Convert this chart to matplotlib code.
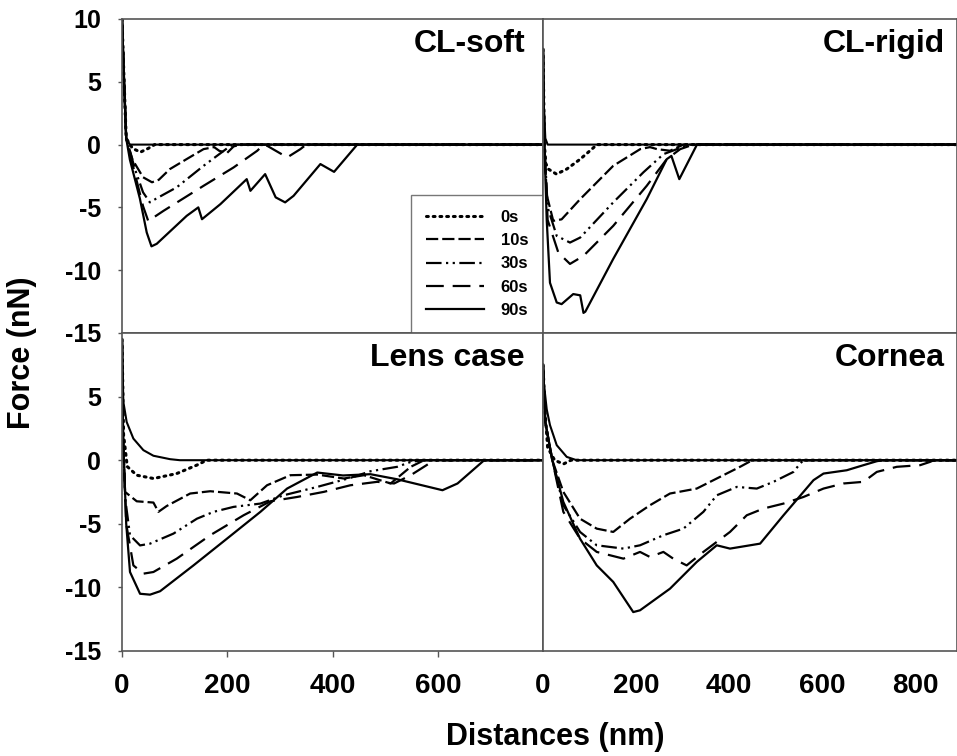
import matplotlib
matplotlib.use("Agg")
import matplotlib.pyplot as plt

plt.rcParams["font.family"] = ["Liberation Sans", "DejaVu Sans"]
plt.rcParams["font.weight"] = "bold"
plt.rcParams["axes.unicode_minus"] = False

# --- Dados -----------------------------------------------
SERIES = ["0s", "10s", "30s", "60s", "90s"]
STYLES = {
    "0s": (0, (0.6, 1.6)),
    "10s": (0, (5.5, 1.8)),
    "30s": (0, (7, 2, 1, 2, 1, 2)),
    "60s": (0, (8, 4)),
    "90s": "solid",
}

# CL-soft (painel superior esquerdo)
soft_x_0s = [0, 4, 8, 20, 35, 50, 62, 800]
soft_y_0s = [10, 5, 0.5, -0.3, -0.6, -0.3, 0, 0]
soft_x_10s = [0, 4, 8, 20, 40, 57, 70, 91, 125, 155, 175, 185, 200, 212, 225, 800]
soft_y_10s = [10, 5, 0.5, -1.2, -2.6, -3.0, -2.8, -1.95, -1.1, -0.36, -0.2, -0.5, -0.65, -0.15, 0, 0]
soft_x_30s = [0, 4, 8, 25, 40, 53, 65, 104, 155, 206, 220, 800]
soft_y_30s = [10, 5, 0.5, -2.0, -3.8, -4.6, -4.3, -3.4, -1.69, -0.1, 0, 0]
soft_x_60s = [0, 4, 8, 25, 40, 50, 60, 79, 155, 212, 257, 269, 276, 314, 339, 350, 800]
soft_y_60s = [10, 5, 0.5, -2.4, -4.9, -6.1, -5.8, -5.27, -3.28, -1.82, -0.49, 0, -0.1, -1.02, -0.36, 0, 0]
soft_x_90s = [0, 4, 8, 15, 34, 47, 56, 66, 123, 145, 152, 187, 237, 244, 272, 292, 310, 326, 377, 403, 447, 800]
soft_y_90s = [10, 5, 0.5, -1.2, -4.3, -7.0, -8.1, -7.9, -5.67, -5.0, -5.94, -4.74, -2.75, -3.68, -2.35,
              -4.2, -4.6, -4.08, -1.55, -2.17, 0, 0]
soft_x_app = [0, 4, 8, 15, 800]
soft_y_app = [10, 5, 0.5, 0, 0]

# CL-rigid (painel superior direito)
rigid_x_0s = [0, 3, 6, 11.5, 29, 51, 80, 105, 116, 890]
rigid_y_0s = [7.6, 0, -1.5, -1.95, -2.35, -1.95, -1.16, -0.36, 0, 0]
rigid_x_10s = [0, 3, 8, 22, 40, 80, 151, 209, 230, 245, 273, 302, 890]
rigid_y_10s = [7.6, 0, -4, -6.07, -5.95, -4.34, -1.69, -0.36, -0.2, -0.36, -0.49, 0, 0]
rigid_x_30s = [0, 3, 10, 29.5, 58, 80, 151, 216, 259, 288, 316, 890]
rigid_y_30s = [7.6, 0, -5, -7.27, -7.8, -7.4, -4.6, -2.2, -0.76, -0.36, 0, 0]
rigid_x_60s = [0, 3, 10, 33, 58, 87, 151, 223, 266, 295, 323, 890]
rigid_y_60s = [7.6, 0, -6, -8.6, -9.5, -8.86, -6.47, -3.28, -1.16, -0.36, 0, 0]
rigid_x_90s = [0, 3, 8, 15, 29.5, 40, 65, 80, 87, 91, 151, 223, 266, 276, 293, 331, 890]
rigid_y_90s = [7.6, 0, -6, -11, -12.57, -12.7, -11.9, -12.0, -13.4, -13.3, -9.1, -4.34, -1.16, -0.9,
               -2.75, 0, 0]
rigid_x_app = [0, 2, 5, 10, 890]
rigid_y_app = [7.6, 3, 0.5, 0, 0]

# Lens case (painel inferior esquerdo)
lens_x_0s = [0, 3, 10, 28, 60, 104, 142, 161, 800]
lens_y_0s = [9.5, 2, -0.5, -1.18, -1.44, -1.05, -0.39, 0, 0]
lens_x_10s = [0, 2, 5.7, 28, 59.7, 69.2, 85, 129.5, 167.6, 218.5, 243.8, 275.6, 320, 370.9, 421.6,
              459.7, 510.5, 548.6, 574, 800]
lens_y_10s = [9.5, 2, -2.49, -3.23, -3.33, -4.06, -3.6, -2.62, -2.44, -2.62, -3.15, -1.97, -1.18,
              -1.13, -1.44, -1.18, -1.83, -0.52, 0, 0]
lens_x_30s = [0, 2, 6, 15.2, 34.3, 53.3, 97.8, 142.3, 174, 212, 263, 307, 371, 434, 472, 523, 549, 570, 800]
lens_y_30s = [9.5, 2, -3, -5.9, -6.7, -6.56, -5.77, -4.6, -4.06, -3.67, -3.41, -2.76, -2.1, -1.39,
              -0.87, -0.52, -0.13, 0, 0]
lens_x_60s = [0, 2, 8, 21.6, 40.6, 59.7, 104, 167.6, 231, 282, 332.8, 383.5, 434, 485, 517, 548.6,
              586.7, 600, 800]
lens_y_60s = [9.5, 2, -5, -8.27, -8.92, -8.79, -7.74, -5.9, -4.33, -3.23, -2.89, -2.49, -1.97, -1.7,
              -1.83, -1.18, -0.18, 0, 0]
lens_x_90s = [0, 2, 8, 15.2, 34.3, 53.3, 72.4, 135.8, 199.4, 263, 313.7, 371, 420, 472, 523, 609,
              637.6, 688.3, 800]
lens_y_90s = [9.5, 2, -5, -8.79, -10.5, -10.57, -10.3, -8.27, -6.17, -4.06, -2.23, -0.97, -1.2, -1.1,
              -1.5, -2.36, -1.83, 0, 0]
lens_x_app = [0, 2.5, 8.9, 21.6, 40.6, 59.7, 91.4, 110, 800]
lens_y_app = [9.5, 4.6, 3.0, 1.7, 0.79, 0.35, 0.08, 0, 0]

# Cornea (painel inferior direito)
cornea_x_0s = [0, 4, 10, 25, 44, 60, 890]
cornea_y_0s = [7.5, 4, 1, 0, -0.3, 0, 0]
cornea_x_10s = [0, 5, 20, 43.7, 79.6, 115.5, 151, 187, 230, 273, 330.5, 373.5, 423.6, 450, 890]
cornea_y_10s = [7.5, 3, 0, -2.49, -4.6, -5.38, -5.64, -4.6, -3.54, -2.62, -2.23, -1.44, -0.52, 0, 0]
cornea_x_30s = [0, 5, 20, 43.7, 79.6, 115.5, 172.9, 208.6, 258.8, 301.8, 344.8, 373.5, 416.6, 459.6,
                495.5, 538.5, 552.9, 560, 890]
cornea_y_30s = [7.5, 3, 0, -3.54, -5.64, -6.69, -6.95, -6.69, -5.9, -5.38, -4.06, -2.76, -2.1, -2.23,
                -1.7, -0.92, -0.26, 0, 0]
cornea_x_60s = [0, 5, 20, 43.7, 79.6, 115.5, 172.9, 208.6, 230, 258.8, 280, 308.8, 344.8, 402, 438,
                474, 517, 560, 603, 646, 689, 717.6, 760.6, 810.8, 832.3, 840, 890]
cornea_y_60s = [7.5, 3, 0, -4.06, -6.17, -7.21, -7.74, -7.21, -7.61, -7.21, -7.74, -8.27, -7.21, -5.64,
                -4.33, -3.8, -3.41, -2.89, -2.23, -1.83, -1.7, -0.92, -0.52, -0.39, -0.13, 0, 0]
cornea_x_90s = [0, 5, 20, 43.7, 79.6, 115.5, 151, 194, 208.6, 273, 330.5, 373.5, 402, 466.7, 517,
                581.5, 603, 653, 689, 717.6, 730, 890]
cornea_y_90s = [7.5, 3, 0, -3.28, -6.17, -8.27, -9.57, -11.94, -11.8, -10.1, -8.0, -6.69, -6.95, -6.56,
                -4.33, -1.57, -1.05, -0.79, -0.39, -0.08, 0, 0]
cornea_x_app = [0, 2, 8, 15, 29.5, 51, 72.4, 890]
cornea_y_app = [7.5, 6, 4, 2.76, 1.18, 0.26, 0, 0]

PANELS = [
    ("CL-soft", 800,
     [(soft_x_0s, soft_y_0s), (soft_x_10s, soft_y_10s), (soft_x_30s, soft_y_30s),
      (soft_x_60s, soft_y_60s), (soft_x_90s, soft_y_90s)], (soft_x_app, soft_y_app)),
    ("CL-rigid", 890,
     [(rigid_x_0s, rigid_y_0s), (rigid_x_10s, rigid_y_10s), (rigid_x_30s, rigid_y_30s),
      (rigid_x_60s, rigid_y_60s), (rigid_x_90s, rigid_y_90s)], (rigid_x_app, rigid_y_app)),
    ("Lens case", 800,
     [(lens_x_0s, lens_y_0s), (lens_x_10s, lens_y_10s), (lens_x_30s, lens_y_30s),
      (lens_x_60s, lens_y_60s), (lens_x_90s, lens_y_90s)], (lens_x_app, lens_y_app)),
    ("Cornea", 890,
     [(cornea_x_0s, cornea_y_0s), (cornea_x_10s, cornea_y_10s), (cornea_x_30s, cornea_y_30s),
      (cornea_x_60s, cornea_y_60s), (cornea_x_90s, cornea_y_90s)], (cornea_x_app, cornea_y_app)),
]

# --- Layout (pixels -> fração da figura) -----------------
W, H = 957, 756
SPINE = "#555555"
x_left, x_mid, x_right = 122, 543, 957
y_top, y_mid, y_bot = 19, 333, 651

fig = plt.figure(figsize=(W / 100, H / 100), dpi=100)
rects = [
    (x_left, y_top, x_mid, y_mid),
    (x_mid, y_top, x_right, y_mid),
    (x_left, y_mid, x_mid, y_bot),
    (x_mid, y_mid, x_right, y_bot),
]

axes = []
for (label, xmax, curves, app), (l, t, r, b) in zip(PANELS, rects):
    ax = fig.add_axes([l / W, 1 - b / H, (r - l) / W, (b - t) / H])
    ax.plot(app[0], app[1], color="black", lw=1.5, solid_capstyle="butt")
    for name, (xs, ys) in zip(SERIES, curves):
        ax.plot(xs, ys, color="black", lw=1.6 if name != "0s" else 2.2,
                linestyle=STYLES[name], dash_capstyle="round" if name == "0s" else "butt",
                label=name)
    ax.set_xlim(0, xmax)
    ax.set_ylim(-15, 10)
    for s in ax.spines.values():
        s.set_color(SPINE)
        s.set_linewidth(1.2)
    ax.text(0.957 if xmax == 800 else 0.971, 0.895, label, transform=ax.transAxes,
            ha="right", va="baseline", fontsize=23, fontweight="bold")
    axes.append(ax)

ax_soft, ax_rigid, ax_lens, ax_cornea = axes

for ax in (ax_soft, ax_lens):
    ax.tick_params(axis="y", direction="out", length=3, width=1, color=SPINE,
                   labelsize=18, pad=12)
for ax in (ax_rigid, ax_cornea):
    ax.tick_params(axis="y", length=0, labelleft=False)
ax_soft.set_yticks([-15, -10, -5, 0, 5, 10])
ax_lens.set_yticks([-15, -10, -5, 0, 5])

for ax in (ax_soft, ax_rigid):
    ax.tick_params(axis="x", length=0, labelbottom=False)
ax_lens.set_xticks([0, 200, 400, 600])
ax_lens.tick_params(axis="x", direction="out", length=4, width=1, color=SPINE,
                    labelsize=20, pad=12)
ax_cornea.set_xticks([0, 200, 400, 600, 800])
ax_cornea.tick_params(axis="x", length=0, labelsize=20, pad=16)

leg = ax_soft.legend(loc="lower right", bbox_to_anchor=(1, 0), borderaxespad=0,
                     fancybox=False, handlelength=3.5, labelspacing=0.5,
                     borderpad=0.9, handletextpad=1.0,
                     prop={"weight": "bold", "size": 12})
leg.get_frame().set_edgecolor(SPINE)
leg.get_frame().set_linewidth(1.0)
leg.set_zorder(5)

fig.text(22 / W, 1 - 353 / H, "Force (nN)", rotation=90, ha="center", va="center",
         fontsize=22, fontweight="bold")
fig.text(555 / W, 1 - 737 / H, "Distances (nm)", ha="center", va="center",
         fontsize=22, fontweight="bold")

fig.savefig("out.png", dpi=100)
